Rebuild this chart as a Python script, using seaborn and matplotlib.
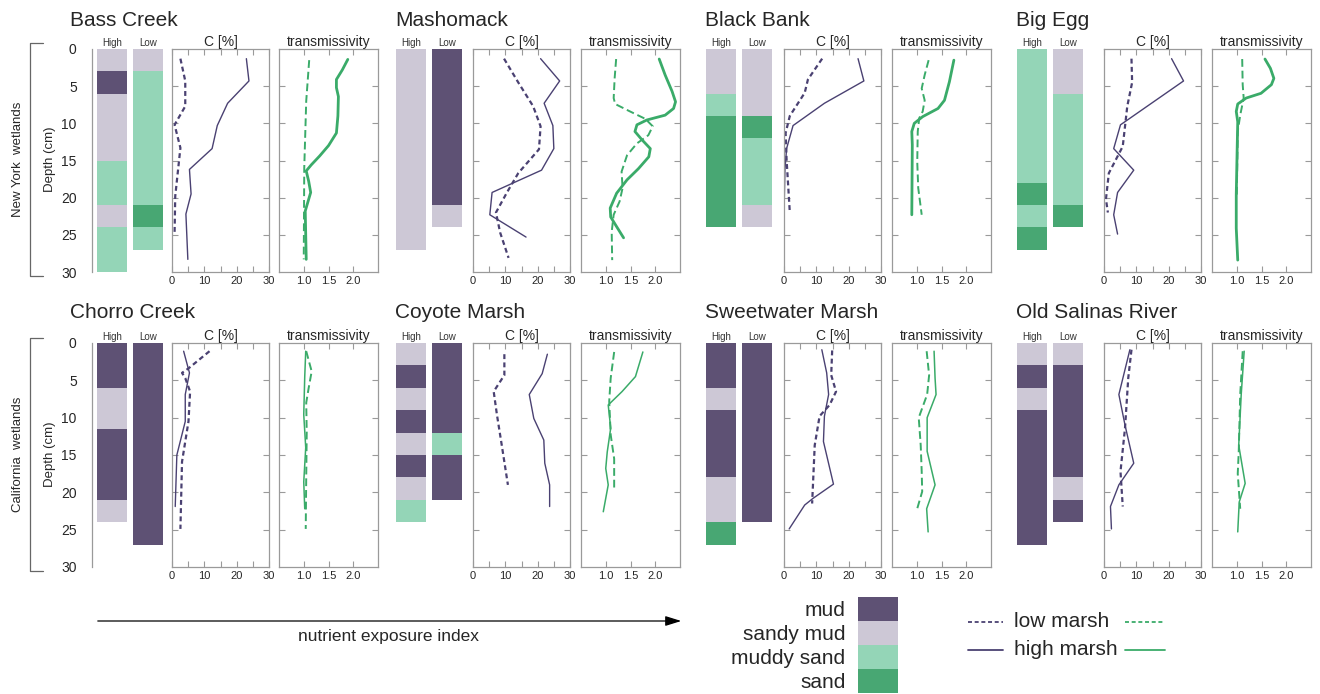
import matplotlib
matplotlib.use("Agg")
import pandas as pd
import seaborn as sns
import matplotlib.pyplot as plt
from matplotlib.patches import FancyArrowPatch
from matplotlib.lines import Line2D
from matplotlib.ticker import FixedLocator

# ---- data (depths in cm) ----
sites_top = ["Bass Creek", "Mashomack", "Black Bank", "Big Egg"]
sites_bot = ["Chorro Creek", "Coyote Marsh", "Sweetwater Marsh", "Old Salinas River"]

# sediment cores: (layer types, layer bottom depths)
core_high = {
    "Bass Creek": (["sandy mud", "mud", "sandy mud", "muddy sand", "sandy mud", "muddy sand"], [3, 6, 15, 21, 24, 30]),
    "Mashomack": (["sandy mud"], [27]),
    "Black Bank": (["sandy mud", "muddy sand", "sand"], [6, 9, 24]),
    "Big Egg": (["muddy sand", "sand", "muddy sand", "sand"], [18, 21, 24, 27]),
    "Chorro Creek": (["mud", "sandy mud", "mud", "sandy mud"], [6, 11.5, 21, 24]),
    "Coyote Marsh": (["sandy mud", "mud", "sandy mud", "mud", "sandy mud", "mud", "sandy mud", "muddy sand"],
                     [3, 6, 9, 12, 15, 18, 21, 24]),
    "Sweetwater Marsh": (["mud", "sandy mud", "mud", "sandy mud", "sand"], [6, 9, 18, 24, 27]),
    "Old Salinas River": (["sandy mud", "mud", "sandy mud", "mud"], [3, 6, 9, 27]),
}
core_low = {
    "Bass Creek": (["sandy mud", "muddy sand", "sand", "muddy sand"], [3, 21, 24, 27]),
    "Mashomack": (["mud", "sandy mud"], [21, 24]),
    "Black Bank": (["sandy mud", "sand", "muddy sand", "sandy mud"], [9, 12, 21, 24]),
    "Big Egg": (["sandy mud", "muddy sand", "sand"], [6, 21, 24]),
    "Chorro Creek": (["mud"], [27]),
    "Coyote Marsh": (["mud", "muddy sand", "mud"], [12, 15, 21]),
    "Sweetwater Marsh": (["mud"], [24]),
    "Old Salinas River": (["sandy mud", "mud", "sandy mud", "mud"], [3, 18, 21, 24]),
}

# carbon profiles: (depths, C %)
c_high = {
    "Bass Creek": ([1.3, 4.3, 7.3, 10.3, 13.4, 16.2, 19.5, 22.2, 28.3], [23.0, 23.8, 17.2, 14.0, 12.4, 5.4, 5.9, 4.3, 4.9]),
    "Mashomack": ([1.3, 4.3, 7.3, 10.3, 13.4, 16.3, 19.3, 22.3, 25.3], [20.9, 26.8, 22.0, 24.7, 25.0, 21.2, 5.9, 5.2, 16.4]),
    "Black Bank": ([1.3, 4.3, 7.3, 10.3, 13.4, 16.2, 22.1], [22.9, 24.7, 12.5, 2.8, 0.8, 0.3, 0.0]),
    "Big Egg": ([1.3, 4.3, 10.2, 13.4, 16.3, 19.3, 22.3, 24.9], [20.9, 24.6, 5.1, 3.0, 9.2, 4.2, 3.0, 4.2]),
    "Chorro Creek": ([1.1, 4.0, 6.9, 10.5, 15.0, 21.9], [3.6, 5.4, 4.1, 4.1, 1.5, 1.0]),
    "Coyote Marsh": ([1.5, 4.1, 6.9, 10.1, 13.0, 16.1, 19.0, 21.9], [23.0, 21.4, 17.4, 18.8, 21.9, 22.2, 23.7, 23.7]),
    "Sweetwater Marsh": ([0.9, 4.0, 6.9, 9.8, 13.2, 18.9, 20.8, 21.7, 24.9], [11.7, 13.2, 13.8, 12.5, 12.2, 15.3, 9.0, 6.4, 1.6]),
    "Old Salinas River": ([0.9, 6.9, 11.0, 16.1, 19.0, 21.9, 24.9], [8.0, 4.6, 6.5, 9.2, 4.6, 2.0, 2.3]),
}
c_low = {
    "Bass Creek": ([1.3, 4.3, 7.7, 10.2, 13.3, 19.8, 24.7], [2.6, 4.1, 4.1, 0.8, 2.6, 1.0, 0.8]),
    "Mashomack": ([1.3, 4.5, 7.7, 10.4, 13.5, 16.7, 19.3, 22.0, 24.7, 28.1], [9.6, 14.0, 18.6, 20.9, 20.4, 14.0, 10.5, 7.1, 8.4, 11.0]),
    "Black Bank": ([1.3, 4.1, 5.9, 9.0, 11.3, 14.9, 22.0], [11.8, 7.4, 6.4, 1.8, 0.5, 0.8, 1.8]),
    "Big Egg": ([1.3, 4.5, 7.7, 13.1, 16.7, 20.2, 22.0], [8.5, 8.7, 7.2, 5.8, 1.5, 0.6, 1.2]),
    "Chorro Creek": ([1.1, 3.4, 4.0, 4.7, 6.5, 10.5, 15.9, 24.9], [11.6, 5.1, 3.1, 4.1, 5.6, 5.1, 3.1, 2.6]),
    "Coyote Marsh": ([1.5, 4.3, 6.5, 9.6, 13.7, 19.0], [9.7, 9.7, 6.4, 7.4, 8.9, 10.8]),
    "Sweetwater Marsh": ([1.0, 4.3, 6.5, 8.3, 9.8, 13.7, 21.5], [14.9, 14.6, 16.1, 14.1, 11.0, 9.5, 8.7]),
    "Old Salinas River": ([0.9, 4.7, 11.4, 17.2, 21.9], [8.5, 7.5, 6.5, 5.1, 5.8]),
}

# transmissivity profiles: (depths, transmissivity)
t_high = {
    "Bass Creek": ([1.4, 2.8, 4.1, 5.2, 6.4, 9.0, 11.3, 13.0, 14.4, 15.6, 16.4, 17.8, 19.3, 21.8, 28.3],
                   [1.89, 1.78, 1.66, 1.66, 1.70, 1.69, 1.66, 1.50, 1.32, 1.15, 1.05, 1.10, 1.14, 1.03, 1.05]),
    "Mashomack": ([1.35, 3.5, 5.7, 7.1, 8.0, 8.9, 9.55, 10.2, 11.1, 12.2, 13.4, 14.5, 16.1, 17.6, 19.4, 21.4, 22.6, 23.9, 25.4],
                  [2.08, 2.20, 2.34, 2.41, 2.37, 2.20, 1.83, 1.63, 1.59, 1.73, 1.90, 1.87, 1.66, 1.43, 1.22, 1.09, 1.10, 1.22, 1.36]),
    "Black Bank": ([1.5, 4.4, 6.9, 8.0, 9.1, 10.0, 11.1, 12.9, 22.3],
                   [1.75, 1.66, 1.56, 1.43, 1.12, 0.95, 0.90, 0.91, 0.90]),
    "Big Egg": ([1.35, 2.6, 3.95, 4.8, 5.96, 6.6, 7.4, 8.4, 9.8, 12.9, 19.6, 24.1, 28.4],
                [1.57, 1.68, 1.75, 1.70, 1.49, 1.19, 1.02, 0.99, 1.02, 1.01, 0.99, 0.99, 1.02]),
    "Chorro Creek": ([1.1, 4.5, 9.6, 14.0, 18.6, 22.2], [1.04, 1.02, 1.00, 1.04, 1.00, 1.02]),
    "Coyote Marsh": ([1.2, 4.5, 6.5, 8.3, 11.4, 14.6, 16.8, 19.0, 22.6], [1.75, 1.60, 1.33, 1.05, 1.10, 1.03, 1.00, 1.05, 0.95]),
    "Sweetwater Marsh": ([1.1, 4.7, 6.9, 10.0, 14.5, 19.0, 22.2, 25.3], [1.35, 1.37, 1.39, 1.21, 1.21, 1.37, 1.20, 1.23]),
    "Old Salinas River": ([1.1, 6.9, 13.7, 18.8, 21.3, 25.3], [1.15, 1.09, 1.04, 1.17, 1.05, 1.02]),
}
t_low = {
    "Bass Creek": ([1.5, 7.0, 16.0, 28.3], [1.11, 1.05, 1.01, 1.00]),
    "Mashomack": ([1.35, 3.9, 6.6, 7.4, 8.4, 9.4, 10.4, 11.6, 12.7, 14.3, 16.5, 18.7, 20.5, 22.3, 24.6, 28.4],
                  [1.21, 1.18, 1.16, 1.19, 1.49, 1.80, 1.95, 1.86, 1.63, 1.43, 1.32, 1.34, 1.28, 1.16, 1.12, 1.13]),
    "Black Bank": ([1.5, 3.5, 5.3, 6.9, 8.4, 9.3, 11.1, 15.2, 18.7, 22.3],
                   [1.24, 1.16, 1.10, 1.16, 1.12, 1.05, 1.02, 1.01, 1.03, 1.10]),
    "Big Egg": ([1.35, 4.8, 6.6, 8.9, 11.1, 20.0], [1.11, 1.12, 1.14, 1.07, 1.02, 1.00]),
    "Chorro Creek": ([1.1, 3.8, 6.0, 8.0, 12.0, 18.0, 24.9], [1.05, 1.16, 1.10, 1.05, 1.06, 1.05, 1.04]),
    "Coyote Marsh": ([1.2, 4.7, 7.8, 12.3, 15.5, 19.5], [1.17, 1.10, 1.07, 1.10, 1.17, 1.17]),
    "Sweetwater Marsh": ([1.1, 4.3, 6.9, 10.0, 13.7, 17.2, 19.9, 22.4], [1.20, 1.25, 1.21, 1.04, 1.08, 1.10, 1.11, 1.00]),
    "Old Salinas River": ([1.1, 6.9, 14.6, 17.5, 22.2], [1.12, 1.07, 1.04, 1.02, 1.07]),
}

sediments = ["mud", "sandy mud", "muddy sand", "sand"]
sed_colors = {"mud": "#5e5174", "sandy mud": "#cdc8d6", "muddy sand": "#94d5b7", "sand": "#48a773"}
purple = "#4a4172"
green = "#3aab69"
spine_col = "#9a9a9a"

sns.set_style("white")
plt.rcParams["font.family"] = ["Liberation Sans", "DejaVu Sans"]
plt.rcParams["xtick.direction"] = "in"
plt.rcParams["ytick.direction"] = "in"

W, H = 1320, 694
fig = plt.figure(figsize=(W / 100, H / 100), dpi=100)


def px_axes(x0, y0, x1, y1):
    return fig.add_axes([x0 / W, 1 - y1 / H, (x1 - x0) / W, (y1 - y0) / H])


def style_panel(ax, major, minor, fmt):
    ax.set_ylim(30, 0)
    ax.xaxis.set_major_locator(FixedLocator(major))
    ax.xaxis.set_minor_locator(FixedLocator(minor))
    ax.yaxis.set_major_locator(FixedLocator([5, 10, 15, 20, 25]))
    ax.yaxis.set_minor_locator(FixedLocator([]))
    ax.set_xticklabels([fmt.format(v) for v in major])
    ax.set_yticklabels([])
    ax.tick_params(which="both", direction="in", length=4, color=spine_col, width=0.8,
                   top=True, right=True, left=True, bottom=True, labelsize=8, pad=3)
    for s in ax.spines.values():
        s.set_color(spine_col)
        s.set_linewidth(0.9)
    ax.set_xlabel("")
    ax.set_ylabel("")


def profile(ax, data, color, ls, lw):
    depth, val = data
    df = pd.DataFrame({"v": val, "d": depth})
    sns.lineplot(data=df, x="v", y="d", sort=False, estimator=None, orient="y",
                 color=color, linestyle=ls, lw=lw, ax=ax)


def core(ax, pos, data):
    types, bottoms = data
    tops = [0] + bottoms[:-1]
    ax.bar([pos] * len(types), [b - t for b, t in zip(bottoms, tops)], bottom=tops,
           width=0.833, color=[sed_colors[t] for t in types], linewidth=0)


hx = [97, 396, 706, 1017]
cx = [172, 473, 784, 1104]
tx = [279, 581, 892, 1212]
title_x = [70, 395, 705, 1016]
rows = [(sites_top, 49, 272, 20), (sites_bot, 343, 567, 313)]

for r, (sites, y0, y1, ty) in enumerate(rows):
    sol_lw = 2.0 if r == 0 else 1.1
    for i, site in enumerate(sites):
        fig.text(title_x[i] / W, 1 - ty / H, site, fontsize=15, ha="left", va="center")

        # sediment cores
        ax = px_axes(hx[i] - 5, y0, hx[i] + 68, y1)
        core(ax, 0, core_high[site])
        core(ax, 1, core_low[site])
        ax.set_xlim(-0.556, 1.472)
        ax.set_ylim(30, 0)
        ax.set_xticks([])
        for s in ["top", "right", "bottom"]:
            ax.spines[s].set_visible(False)
        for lab, p in [("High", 0), ("Low", 1)]:
            ax.text(p, 1.006, lab, transform=ax.get_xaxis_transform(), ha="center", va="bottom",
                    fontsize=7, color="#333333")
        if i == 0:
            ax.spines["left"].set_color(spine_col)
            ax.spines["left"].set_linewidth(0.9)
            ax.set_yticks(range(0, 31, 5))
            ax.tick_params(axis="y", direction="out", length=7, color=spine_col, labelsize=10, pad=4)
        else:
            ax.spines["left"].set_visible(False)
            ax.set_yticks([])

        # carbon
        ax = px_axes(cx[i], y0, cx[i] + 97, y1)
        profile(ax, c_low[site], purple, (0, (2.2, 1.5)), 1.6)
        profile(ax, c_high[site], purple, "-", 1.0)
        ax.set_xlim(0, 30)
        style_panel(ax, [0, 10, 20, 30], [5, 15, 25], "{:.0f}")
        ax.set_title("C [%]", fontsize=10, pad=2)

        # transmissivity
        ax = px_axes(tx[i], y0, tx[i] + 99, y1)
        profile(ax, t_low[site], green, (0, (4, 2)), 1.4)
        profile(ax, t_high[site], green, "-", sol_lw)
        ax.set_xlim(0.5, 2.5)
        style_panel(ax, [1.0, 1.5, 2.0], [], "{:.1f}")
        ax.set_title("transmissivity", fontsize=10, pad=2)

# row labels and brackets
for (ya, yb, label) in [(43, 276, "New York  wetlands"), (338, 571, "California  wetlands")]:
    xs = [43 / W, 30 / W, 30 / W, 43 / W]
    ys = [1 - ya / H, 1 - ya / H, 1 - yb / H, 1 - yb / H]
    fig.add_artist(Line2D(xs, ys, color="#666666", lw=0.9, transform=fig.transFigure))
    fig.text(18 / W, 1 - (ya + yb) / 2 / H, label, rotation=90, fontsize=9.5, ha="center", va="center")
    fig.text(50 / W, 1 - (ya + yb) / 2 / H, "Depth (cm)", rotation=90, fontsize=9.5, ha="center", va="center")

# nutrient arrow
fig.add_artist(FancyArrowPatch((95 / W, 1 - 621 / H), (684 / W, 1 - 621 / H), transform=fig.transFigure,
                               arrowstyle="-|>,head_length=0.8,head_width=0.25", mutation_scale=12,
                               lw=0.9, color="black"))
fig.text(388 / W, 1 - 636 / H, "nutrient exposure index", fontsize=12.5, ha="center", va="center")

# sediment legend
lax = px_axes(858, 597, 898, 693)
lax.bar([0] * 4, [1] * 4, bottom=list(range(4)), width=1, color=[sed_colors[s] for s in sediments], linewidth=0)
lax.set_xlim(-0.5, 0.5)
lax.set_ylim(4, 0)
lax.set_xticks([])
lax.set_yticks([k + 0.5 for k in range(4)])
lax.set_yticklabels(sediments, fontsize=15)
lax.tick_params(axis="y", length=0, pad=9)
for s in lax.spines.values():
    s.set_visible(False)

# line legend
gax = px_axes(960, 605, 1180, 665)
gax.set_xlim(960, 1180)
gax.set_ylim(665, 605)
gax.axis("off")
for yy, lab, ls in [(622, "low marsh", (0, (2.2, 1.5))), (650, "high marsh", "-")]:
    gax.plot([968, 1003], [yy, yy], color=purple, lw=1.3, linestyle=ls)
    gax.plot([1125, 1165], [yy, yy], color=green, lw=1.3, linestyle=ls)
    gax.text(1014, yy, lab, fontsize=15, ha="left", va="center")

fig.savefig("out.png", dpi=100)
